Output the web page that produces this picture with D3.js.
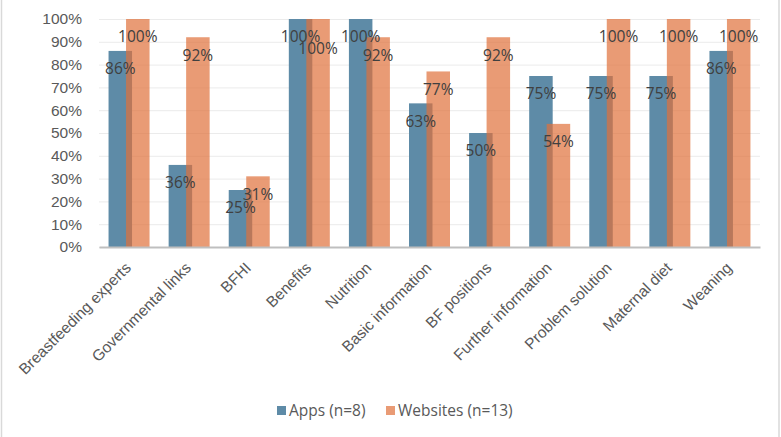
<!DOCTYPE html>
<html>
<head>
<meta charset="utf-8">
<script src="https://cdn.jsdelivr.net/npm/d3@7"></script>
<style>
  body { margin: 0; background: #fff; }
  svg { font-family: 'Open Sans', sans-serif; }
  .grid line { stroke: #EBEBEB; stroke-width: 1; }
  .grid path { display: none; }
  .y.axis text { fill: #595959; font-size: 15.5px; }
  .x.axis text { fill: #595959; font-size: 15.5px; }
  .bar-label { fill: #404040; font-size: 15.5px; }
  .legend text { fill: #595959; font-size: 15.5px; }
</style>
</head>
<body>
<svg id="chart" width="781" height="437"></svg>
<script>
const categories = [
  'Breastfeeding experts', 'Governmental links', 'BFHI', 'Benefits',
  'Nutrition', 'Basic information', 'BF positions', 'Further information',
  'Problem solution', 'Maternal diet', 'Weaning'
];
const apps = [86, 36, 25, 100, 100, 63, 50, 75, 75, 75, 86];
const websites = [100, 92, 31, 100, 92, 77, 92, 54, 100, 100, 100];
const seriesNames = ['Apps (n=8)', 'Websites (n=13)'];
const yTicks = [0, 10, 20, 30, 40, 50, 60, 70, 80, 90, 100];

const width = 781,
  height = 437,
  margin = { top: 19, right: 21, bottom: 190, left: 99 },
  chartWidth = width - margin.left - margin.right,
  chartHeight = height - margin.top - margin.bottom;

const appsColor = '#5E8BA7',
  webColor = '#E0703A',
  webOpacity = 0.7;

const svg = d3.select('#chart');

// chart frame edges
svg.append('line').attr('x1', 1.5).attr('x2', 1.5).attr('y1', 0).attr('y2', height)
  .style('stroke', '#D9D9D9').style('stroke-width', 1.5);
svg.append('line').attr('x1', 779).attr('x2', 779).attr('y1', 0).attr('y2', height)
  .style('stroke', '#D9D9D9').style('stroke-width', 1.5);

const g = svg.append('g')
  .attr('transform', 'translate(' + margin.left + ',' + margin.top + ')');

const x = d3.scaleBand()
  .domain(categories)
  .range([0, chartWidth])
  .paddingInner(0.32)
  .paddingOuter(0.16);

const y = d3.scaleLinear().domain([0, 100]).range([chartHeight, 0]);

const barWidth = 23.5,
  overlap = 6;

// gridlines
g.append('g')
  .attr('class', 'grid')
  .call(d3.axisLeft(y).tickValues(yTicks).tickSize(-chartWidth).tickFormat(''));

// y axis labels
const yAxis = g.append('g')
  .attr('class', 'y axis')
  .call(d3.axisLeft(y).tickValues(yTicks).tickSize(0).tickPadding(17).tickFormat(d => d + '%'));
yAxis.select('.domain').remove();

const groupX = i => x(categories[i]) + x.bandwidth() / 2;
const appsX = i => groupX(i) - (2 * barWidth - overlap) / 2;
const webX = i => appsX(i) + barWidth - overlap;

// bars
g.append('g').selectAll('rect')
  .data(apps)
  .enter()
  .append('rect')
  .attr('x', (d, i) => appsX(i))
  .attr('y', d => y(d))
  .attr('width', barWidth)
  .attr('height', d => chartHeight - y(d))
  .style('fill', appsColor);

g.append('g').selectAll('rect')
  .data(websites)
  .enter()
  .append('rect')
  .attr('x', (d, i) => webX(i))
  .attr('y', d => y(d))
  .attr('width', barWidth)
  .attr('height', d => chartHeight - y(d))
  .style('fill', webColor)
  .style('opacity', webOpacity);

// x axis
const xAxis = g.append('g')
  .attr('class', 'x axis')
  .attr('transform', 'translate(0,' + chartHeight + ')')
  .call(d3.axisBottom(x).tickSize(0).tickPadding(0));
xAxis.select('.domain')
  .style('stroke', '#BFBFBF')
  .style('stroke-width', 2);
xAxis.selectAll('text')
  .style('text-anchor', 'end')
  .attr('x', 0)
  .attr('y', 0)
  .attr('dy', '0.35em')
  .attr('transform', 'translate(-1,18) rotate(-45)');

// data labels
g.append('g').selectAll('text')
  .data(apps)
  .enter()
  .append('text')
  .attr('class', 'bar-label')
  .attr('x', (d, i) => appsX(i) + barWidth / 2)
  .attr('y', d => y(d) + 18)
  .attr('dy', '0.35em')
  .attr('text-anchor', 'middle')
  .text(d => d + '%');

// websites label nudged down when it would sit on the apps label
g.append('g').selectAll('text')
  .data(websites)
  .enter()
  .append('text')
  .attr('class', 'bar-label')
  .attr('x', (d, i) => webX(i) + barWidth / 2)
  .attr('y', (d, i) => y(d) + 18 + (d === apps[i] ? 12 : 0))
  .attr('dy', '0.35em')
  .attr('text-anchor', 'middle')
  .text(d => d + '%');

// legend
const legend = svg.append('g').attr('class', 'legend');
const legendItems = [
  { name: seriesNames[0], color: appsColor, opacity: 1, x: 277 },
  { name: seriesNames[1], color: webColor, opacity: webOpacity, x: 386 }
];
legendItems.forEach(item => {
  legend.append('rect')
    .attr('x', item.x)
    .attr('y', 406)
    .attr('width', 9)
    .attr('height', 9)
    .style('fill', item.color)
    .style('opacity', item.opacity);
  legend.append('text')
    .attr('x', item.x + 12)
    .attr('y', 411)
    .attr('dy', '0.35em')
    .text(item.name);
});
</script>
</body>
</html>
